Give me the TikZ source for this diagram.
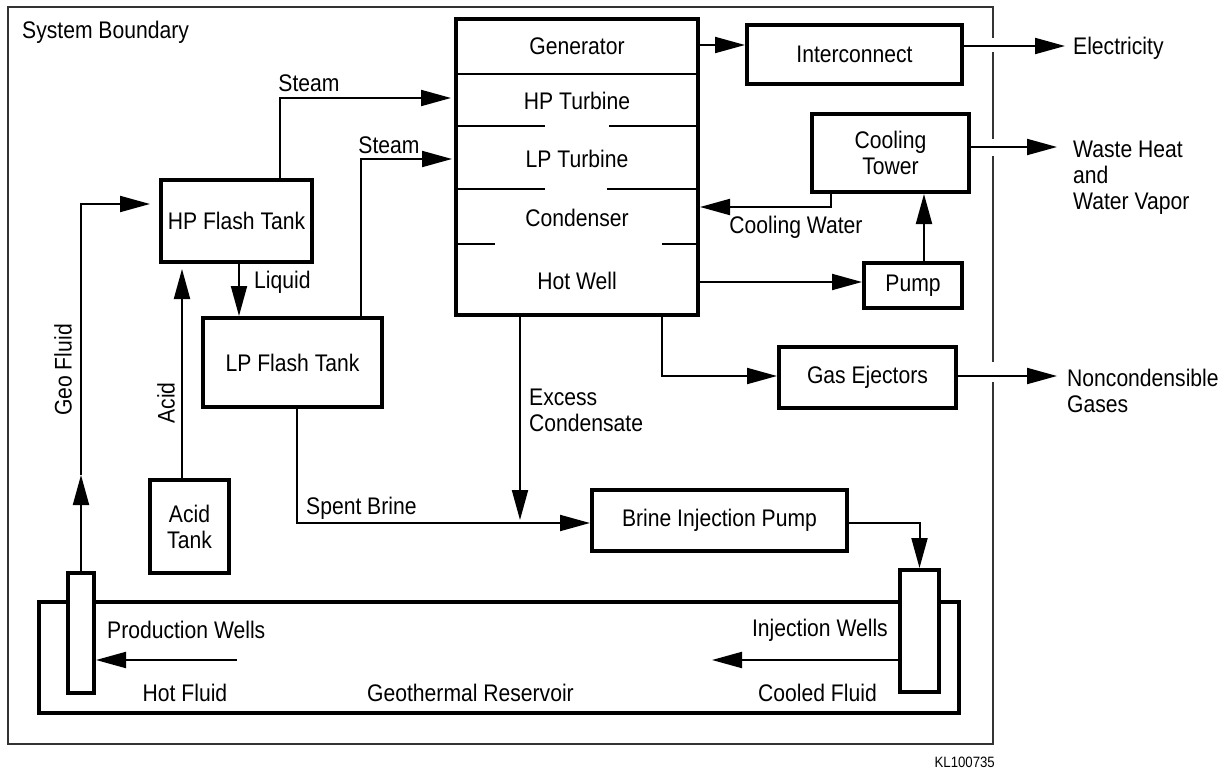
\documentclass[tikz,border=0pt]{standalone}
\usepackage{fontspec}
\setmainfont{Liberation Sans}[FakeStretch=0.88]
\usetikzlibrary{arrows.meta}

\begin{document}
\begin{tikzpicture}[x=1pt,y=-1pt,
  font=\fontsize{24}{26}\selectfont,
  unit/.style={draw,line width=4pt,inner sep=0pt,align=center},
  well/.style={draw,line width=4pt,fill=white,inner sep=0pt},
  flow/.style={line width=2pt,-{Triangle[length=30pt,width=16pt]}},
  txt/.style={inner sep=0pt,align=left},
  divider/.style={line width=2pt},
  boundary/.style={line width=1.8pt,draw=black!80},
  ]
\useasboundingbox (0,0) rectangle (1227,773);

% system boundary, open where the outputs leave
\draw[boundary] (993,38) -- (993,7) -- (8,7) -- (8,744) -- (993,744) -- (993,382);
\draw[boundary] (993,52) -- (993,139);
\draw[boundary] (993,156) -- (993,362);
\node[txt,anchor=west] (sysb) at (22,32) {System Boundary};

% power block stack
\node[unit,minimum width=242pt,minimum height=296pt] (stack) at (577,167) {};
\draw[divider] (456,74) -- (698,74);
\draw[divider] (456,126) -- (545,126);
\draw[divider] (609,126) -- (700,126);
\draw[divider] (456,189) -- (545,189);
\draw[divider] (607,189) -- (698,189);
\draw[divider] (456,244) -- (495,244);
\draw[divider] (662,244) -- (698,244);
\node[txt] (gen)  at (577,46)  {Generator};
\node[txt] (hpt)  at (577,101) {HP Turbine};
\node[txt] (lpt)  at (577,159) {LP Turbine};
\node[txt] (cond) at (577,218) {Condenser};
\node[txt] (hw)   at (577,281) {Hot Well};

% process units
\node[unit,minimum width=215pt,minimum height=59pt] (ic) at (854.5,54.5) {Interconnect};
\node[unit,minimum width=157pt,minimum height=78pt] (ct) at (890.5,153) {Cooling\\Tower};
\node[unit,minimum width=98pt,minimum height=45pt] (pump) at (913,285.5) {Pump};
\node[unit,minimum width=177pt,minimum height=61pt] (gas) at (867.5,377.5) {Gas Ejectors};
\node[unit,minimum width=151pt,minimum height=82pt] (hpft) at (236.5,221) {HP Flash Tank};
\node[unit,minimum width=179pt,minimum height=89pt] (lpft) at (292.5,362.5) {LP Flash Tank};
\node[unit,minimum width=79pt,minimum height=93pt] (acid) at (189.5,526.5) {Acid\\Tank};
\node[unit,minimum width=255pt,minimum height=61pt] (bip) at (719.5,520.5) {Brine Injection Pump};

% reservoir and wells
\node[draw,line width=3.5pt,inner sep=0pt,minimum width=920pt,minimum height=111pt] (res) at (499,657.5) {};
\node[well,minimum width=26pt,minimum height=120pt] (pw) at (81,633) {};
\node[well,minimum width=39pt,minimum height=122pt] (iw) at (919.5,631) {};

% routing points
\coordinate (xacid) at (182,0);
\coordinate (xliq) at (239,0);
\coordinate (xst1) at (280,98);
\coordinate (xst2) at (361,159);
\coordinate (xbrine) at (297,523);
\coordinate (xexc) at (520,0);
\coordinate (xgas) at (662,376);
\coordinate (ycool) at (831,207);
\coordinate (xpt) at (924,0);
\coordinate (yhw) at (0,282);
\coordinate (ygen) at (0,45);
\coordinate (elec) at (1065,46);
\coordinate (waste) at (1057,147);
\coordinate (ncg) at (1057,376);
\coordinate (hotf) at (237,660);
\coordinate (coolf) at (712,660);
\coordinate (gfmid) at (81,475);
\coordinate (gfturn) at (0,204);

% connectors
\draw[flow,shorten >=3pt] (hpft.north -| xst1) |- (stack.west |- xst1);
\draw[flow,shorten >=2pt] (lpft.north -| xst2) |- (stack.west |- xst2);
\draw[flow] (hpft.south -| xliq) -- (lpft.north -| xliq);
\draw[flow,shorten >=5pt] (acid.north -| xacid) -- (hpft.south -| xacid);
\draw[flow] (pw.north) -- (gfmid);
\draw[flow,shorten >=9pt] (gfmid) |- (hpft.west |- gfturn);
\draw[flow] (lpft.south -| xbrine) |- (bip.west |- xbrine);
\draw[flow,shorten >=3pt] (stack.south -| xexc) -- (xexc |- xbrine);
\draw[flow] (stack.south -| xgas) |- (gas.west |- xgas);
\draw[flow] (stack.east |- yhw) -- (pump.west |- yhw);
\draw[flow] (pump.north -| xpt) -- (ct.south -| xpt);
\draw[flow] (ct.south -| ycool) |- (stack.east |- ycool);
\draw[flow] (stack.east |- ygen) -- (ic.west |- ygen);
\draw[flow] (ic.east |- elec) -- (elec);
\draw[flow] (ct.east |- waste) -- (waste);
\draw[flow] (gas.east |- ncg) -- (ncg);
\draw[flow] (bip.east |- xbrine) -| (iw.north);
\draw[flow] (hotf) -- (pw.east |- hotf);
\draw[flow] (iw.west |- coolf) -- (coolf);

% stream labels
\node[txt] (lst1) at (309,83) {Steam};
\node[txt] (lst2) at (389,145) {Steam};
\node[txt,anchor=west] (lliq) at (254,282) {Liquid};
\node[txt,rotate=90] (lgeo) at (63,370) {Geo Fluid};
\node[txt,rotate=90] (lacid) at (166,403) {Acid};
\node[txt,anchor=west] (lspent) at (306,508) {Spent Brine};
\node[txt,anchor=west] (lexc) at (529,410) {Excess\\Condensate};
\node[txt] (lcw) at (796,227) {Cooling Water};
\node[txt,anchor=west] (lelec) at (1073,48) {Electricity};
\node[txt,anchor=west] (lwaste) at (1073,178) {Waste Heat\\and\\Water Vapor};
\node[txt,anchor=west] (lncg) at (1067,391) {Noncondensible\\Gases};
\node[txt,anchor=west] (lpw) at (107,630) {Production Wells};
\node[txt] (lhot) at (185,693) {Hot Fluid};
\node[txt,anchor=west] (lres) at (367,693) {Geothermal Reservoir};
\node[txt,anchor=east] (liw) at (888,630) {Injection Wells};
\node[txt,anchor=east] (lcool) at (877,693) {Cooled Fluid};
\node[txt,anchor=east,font=\fontsize{15}{16}\selectfont] (tag) at (995,762) {KL100735};
\end{tikzpicture}
\end{document}
